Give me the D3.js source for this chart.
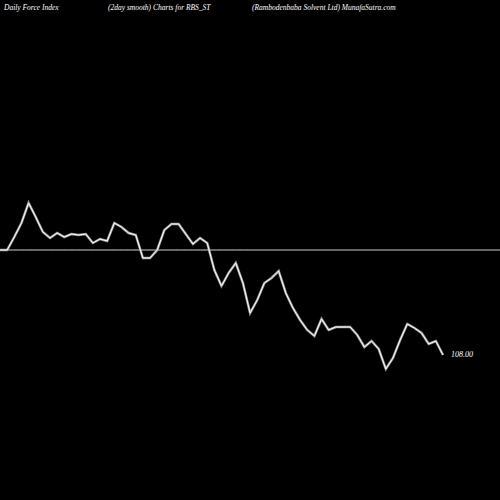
<!DOCTYPE html><html><head><script src="https://cdn.jsdelivr.net/npm/d3@7"></script>
<style>body{margin:0;background:#000}</style></head><body><svg width="500" height="500"></svg><script>
const yPix=[250,250,237,223,203,217,232,238,233,237,234,235,234,243,239,241,223,227,233,235,258,258,250,230,224,224,234,244,238,243,270,286,273,263,283,313,300,283,278,271,293,308,320,330,336,319,330,327,327,327,335,347,341,349,369,358,340,324,328,333,344,341,355];
const values=yPix.map(v=>250-v);
const titles=["Daily Force  Index","(2day smooth) Charts for RBS_ST","(Rambodenbaba  Solvent Ltd) MunafaSutra.com"];
const titleX=[4,108,252];
const lastLabel="108.00";
const svg=d3.select("svg");
const x=d3.scaleLinear().domain([0,values.length-1]).range([0,443]);
const y=d3.scaleLinear().domain([-100,0]).range([350,250]);
svg.selectAll(".t").data(titles).join("text").attr("x",(d,i)=>titleX[i]).attr("y",10).attr("fill","#fff").attr("font-family","Liberation Serif").attr("font-style","italic").attr("font-size",7.5).text(d=>d);
svg.append("line").attr("x1",0).attr("x2",500).attr("y1",y(0)).attr("y2",y(0)).attr("stroke","#888").attr("stroke-width",1.5);
svg.selectAll(".d").data(d3.range(8,250,7)).join("line").attr("x1",d=>d).attr("x2",d=>d+2).attr("y1",y(0)-0.5).attr("y2",y(0)-0.5).attr("stroke",(d,i)=>i%3?"#c44":"#2a2");
svg.append("path").datum(values).attr("fill","none").attr("stroke","#999").attr("stroke-width",2.5).attr("d",d3.line().x((d,i)=>x(i)).y(d=>y(d)));
svg.append("path").datum(values).attr("fill","none").attr("stroke","#fff").attr("stroke-width",1).attr("d",d3.line().x((d,i)=>x(i)).y(d=>y(d)));
svg.append("text").attr("x",451).attr("y",y(values[values.length-1])+2).attr("fill","#fff").attr("font-family","Liberation Serif").attr("font-style","italic").attr("font-size",8).text(lastLabel);
</script></body></html>
